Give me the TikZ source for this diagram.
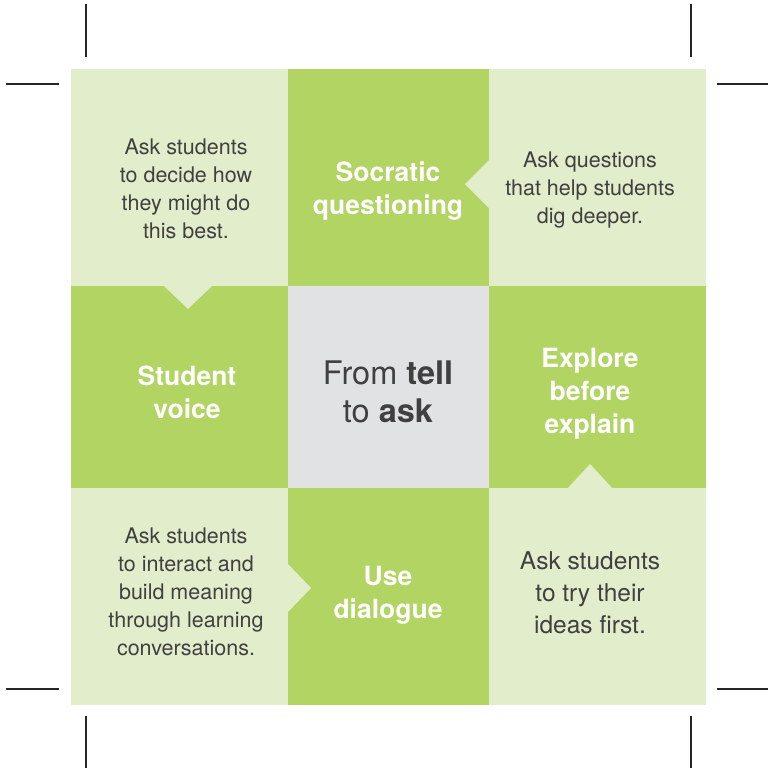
\documentclass[tikz,border=0pt]{standalone}
\usepackage{fontspec}
\setmainfont{TeX Gyre Heros}
\definecolor{leaf}{HTML}{E2EDCB}
\definecolor{grass}{HTML}{B2D463}
\definecolor{stone}{HTML}{E1E2E4}
\definecolor{ink}{HTML}{404040}
\begin{document}
\begin{tikzpicture}[x=1pt,y=-1pt]
\tikzstyle{cell} = [rectangle, inner sep=0pt, minimum width=217pt, minimum height=217pt]
\tikzstyle{note} = [align=center, text=ink, font=\fontsize{21.5}{28}\selectfont]
\tikzstyle{bignote} = [align=center, text=ink, font=\fontsize{24.5}{32}\selectfont]
\tikzstyle{head} = [align=center, text=white, font=\fontsize{26.5}{33}\selectfont\bfseries]
\tikzstyle{cropline} = [line width=1.2pt, draw=black!85]

\useasboundingbox[fill=white] (0,0) rectangle (769,769);

\node[cell, fill=leaf] (tl) at (179.5,177.5) {};
\node[cell, fill=grass, minimum width=201pt] (tc) at (388.5,177.5) {};
\node[cell, fill=leaf] (tr) at (597.5,177.5) {};
\node[cell, fill=grass, minimum height=202pt] (ml) at (179.5,387) {};
\node[cell, fill=stone, minimum width=201pt, minimum height=202pt] (mc) at (388.5,387) {};
\node[cell, fill=grass, minimum height=202pt] (mr) at (597.5,387) {};
\node[cell, fill=leaf] (bl) at (179.5,596.5) {};
\node[cell, fill=grass, minimum width=201pt] (bc) at (388.5,596.5) {};
\node[cell, fill=leaf] (br) at (597.5,596.5) {};

\fill[leaf] (163,285) -- (188,309) -- (213,285) -- cycle;
\fill[leaf] (490,159) -- (465,184) -- (490,209) -- cycle;
\fill[leaf] (567,489) -- (590,464) -- (613,489) -- cycle;
\fill[leaf] (287,563) -- (311,588) -- (287,613) -- cycle;

\node[note] (tlnote) at (186,189) {Ask students\\to decide how\\they might do\\this best.};
\node[head] (socratic) at (388,191.5) {Socratic\\questioning};
\node[note] (trnote) at (590,190) {Ask questions\\that help students\\dig deeper.};
\node[head] (voice) at (187,392) {Student\\voice};
\node[align=center, text=ink, font=\fontsize{32.5}{38}\selectfont] (centre) at (388,392) {From \textbf{tell}\\to \textbf{ask}};
\node[head] (explore) at (590,393.5) {Explore\\before\\explain};
\node[note] (blnote) at (186,592) {Ask students\\to interact and\\build meaning\\through learning\\conversations.};
\node[head] (dialogue) at (388,595) {Use\\dialogue};
\node[bignote] (brnote) at (590,593) {Ask students\\to try their\\ideas first.};

\draw[cropline] (86,4) -- (86,57);
\draw[cropline] (691,4) -- (691,57);
\draw[cropline] (6,84) -- (59,84);
\draw[cropline] (717,84) -- (768,84);
\draw[cropline] (6,689) -- (59,689);
\draw[cropline] (717,689) -- (768,689);
\draw[cropline] (86,716) -- (86,768);
\draw[cropline] (691,716) -- (691,768);
\end{tikzpicture}
\end{document}
